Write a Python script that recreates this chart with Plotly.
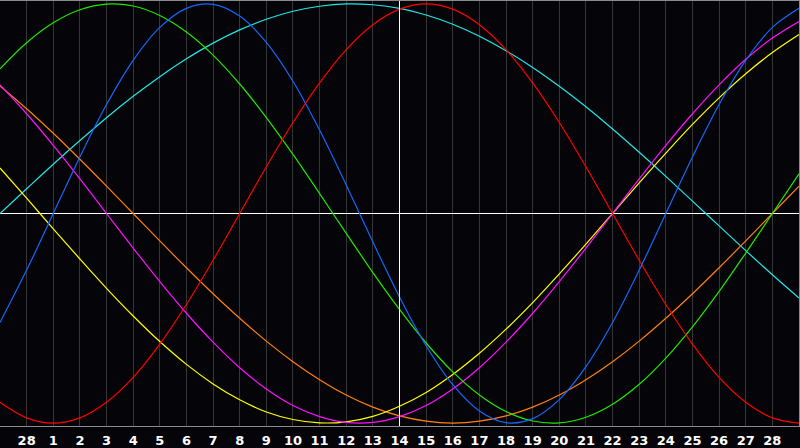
import plotly.graph_objects as go

# Day index (0..30) across the chart; tick labels at days 1..29
days = list(range(31))
tick_days = list(range(1, 30))
tick_labels = ["28"] + [str(d) for d in range(1, 29)]
today = 15

physical = [-52.0, -27.0, 0, 27.0, 52.0, 73.1, 88.8, 97.9, 99.8, 94.2, 81.7, 63.1, 39.8, 13.6,
            -13.6, -39.8, -63.1, -81.7, -94.2, -99.8, -97.9, -88.8, -73.1, -52.0, -27.0, 0,
            27.0, 52.0, 73.1, 88.8, 97.9]
emotional = [-90.1, -97.5, -100, -97.5, -90.1, -78.2, -62.3, -43.4, -22.3, 0, 22.3, 43.4, 62.3,
             78.2, 90.1, 97.5, 100, 97.5, 90.1, 78.2, 62.3, 43.4, 22.3, 0, -22.3, -43.4, -62.3,
             -78.2, -90.1, -97.5, -100]
intellectual = [69.0, 81.5, 91.0, 97.2, 99.9, 99.0, 94.5, 86.6, 75.6, 61.8, 45.8, 28.2, 9.5,
                -9.5, -28.2, -45.8, -61.8, -75.6, -86.6, -94.5, -99.0, -99.9, -97.2, -91.0,
                -81.5, -69.0, -54.1, -37.2, -18.9, 0, 18.9]
intuitive = [61.4, 47.6, 32.5, 16.5, 0, -16.5, -32.5, -47.6, -61.4, -73.6, -83.7, -91.6, -96.9,
             -99.7, -99.7, -96.9, -91.6, -83.7, -73.6, -61.4, -47.6, -32.5, -16.5, 0, 16.5,
             32.5, 47.6, 61.4, 73.6, 83.7, 91.6]
aesthetic = [21.7, 7.3, -7.3, -21.7, -35.7, -48.9, -61.1, -72.0, -81.3, -88.9, -94.7, -98.3,
             -99.9, -99.4, -96.8, -92.0, -85.4, -76.8, -66.7, -55.2, -42.5, -28.8, -14.6, 0,
             14.6, 28.8, 42.5, 55.2, 66.7, 76.8, 85.4]
awareness = [60.9, 50.0, 38.3, 25.9, 13.1, 0, -13.1, -25.9, -38.3, -50.0, -60.9, -70.7, -79.3,
             -86.6, -92.4, -96.6, -99.1, -100, -99.1, -96.6, -92.4, -86.6, -79.3, -70.7, -60.9,
             -50.0, -38.3, -25.9, -13.1, 0, 13.1]
spiritual = [0, 11.8, 23.5, 34.8, 45.7, 55.9, 65.3, 73.8, 81.3, 87.6, 92.7, 96.5, 98.9, 100.0,
             99.6, 97.9, 94.7, 90.3, 84.6, 77.7, 69.7, 60.7, 50.9, 40.3, 29.2, 17.7, 5.9, -5.9,
             -17.7, -29.2, -40.3]

series = [
    ("spiritual", spiritual, "#20e8e8"),
    ("awareness", awareness, "#ff8010"),
    ("aesthetic", aesthetic, "#ffff00"),
    ("intuitive", intuitive, "#ff10ff"),
    ("intellectual", intellectual, "#20e800"),
    ("emotional", emotional, "#ff0000"),
    ("physical", physical, "#1468ff"),
]

bg = "#050408"
fig = go.Figure()
for name, vals, col in series:
    fig.add_trace(go.Scatter(x=days, y=vals, mode="lines", name=name,
                             line=dict(color=col, width=1.2, shape="spline", smoothing=1)))

fig.add_vline(x=today, line=dict(color="white", width=1), layer="above")

fig.update_layout(
    width=800, height=448,
    margin=dict(l=0, r=0, t=0, b=20),
    paper_bgcolor=bg, plot_bgcolor=bg,
    showlegend=False,
    xaxis=dict(range=[0, 30], tickvals=tick_days, ticktext=tick_labels,
               showgrid=True, gridcolor="#363636", gridwidth=1,
               zeroline=False, showline=True, linecolor="#8a8a8a", linewidth=1, mirror=True,
               ticks="", ticklabelstandoff=2,
               tickfont=dict(family="DejaVu Sans", size=13, color="white", weight="bold"),
               fixedrange=True),
    yaxis=dict(range=[-101.4, 101.4], showgrid=False, showticklabels=False,
               zeroline=True, zerolinecolor="white", zerolinewidth=1,
               showline=True, linecolor="#8a8a8a", linewidth=1, mirror=True, ticks="",
               fixedrange=True),
)

fig.write_html("out.html", config={"displayModeBar": False},
               post_script="document.body.style.margin='0';document.body.style.background='#050408';")
